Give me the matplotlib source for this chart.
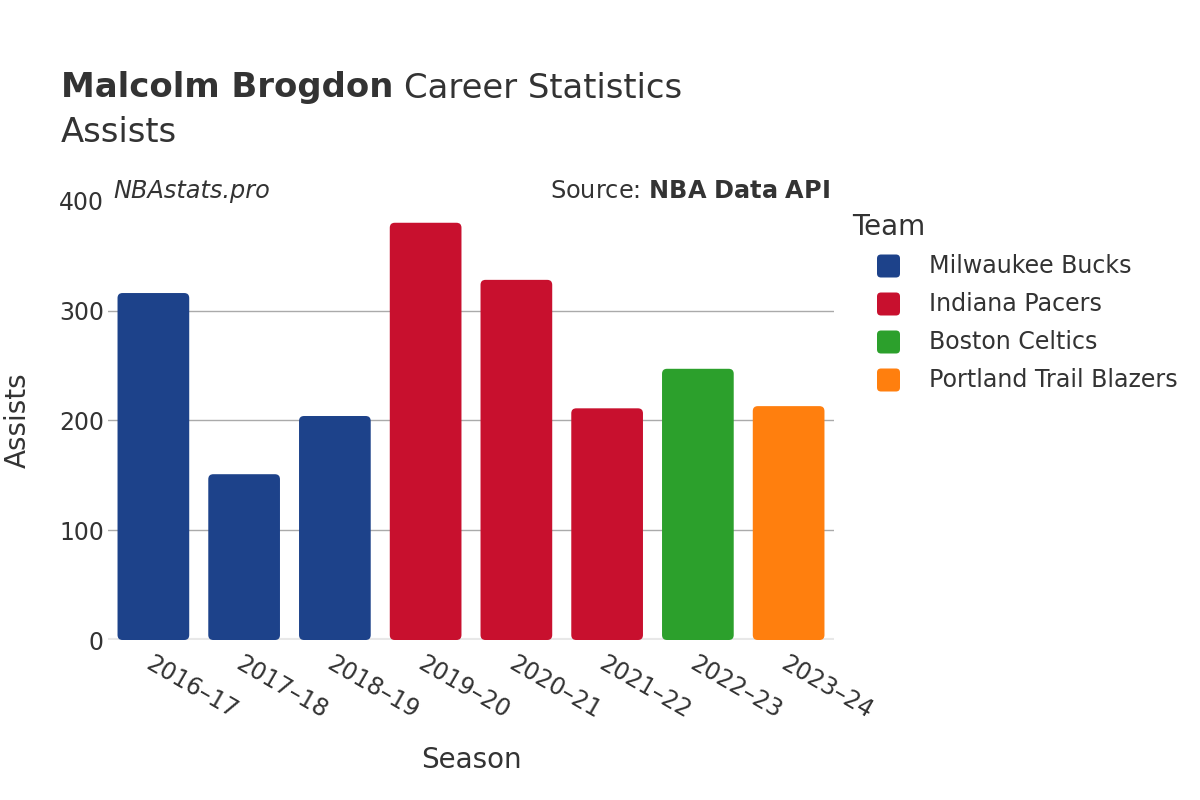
import matplotlib.pyplot as plt
from matplotlib.patches import FancyBboxPatch

seasons = ['2016–17', '2017–18', '2018–19', '2019–20', '2020–21', '2021–22', '2022–23', '2023–24']
assists = [316, 151, 204, 380, 328, 211, 247, 213]
teams = ['Milwaukee Bucks', 'Milwaukee Bucks', 'Milwaukee Bucks', 'Indiana Pacers',
         'Indiana Pacers', 'Indiana Pacers', 'Boston Celtics', 'Portland Trail Blazers']
team_colors = {
    'Milwaukee Bucks': '#1d428a',
    'Indiana Pacers': '#c8102e',
    'Boston Celtics': '#2ca02c',
    'Portland Trail Blazers': '#ff7f0e',
}

plt.rcParams['font.family'] = ['DejaVu Sans']
txt = '#333333'
W, H = 1200, 800

fig = plt.figure(figsize=(12, 8), dpi=100)
ax = fig.add_axes([0.09, 0.2, 0.605, 0.549])
ax.set_xlim(-0.5, len(seasons) - 0.5)
ax.set_ylim(0, 400)

# rounded bars
w = 0.79
x_per_px = len(seasons) / (0.605 * W)
y_per_px = 400 / (0.549 * H)
r = 5 * x_per_px
for i, (v, t) in enumerate(zip(assists, teams)):
    p = FancyBboxPatch((i - w / 2, 0), w, v,
                       boxstyle=f"round,pad=0,rounding_size={r}",
                       mutation_aspect=y_per_px / x_per_px,
                       fc=team_colors[t], ec='none', zorder=3)
    ax.add_patch(p)

ax.set_xticks(range(len(seasons)))
ax.set_xticklabels(seasons, rotation=-30, ha='left', rotation_mode='anchor',
                   fontsize=17, color=txt)
ax.set_yticks([0, 100, 200, 300, 400])
ax.tick_params(axis='y', labelsize=17, colors=txt, length=0, pad=3)
ax.tick_params(axis='x', length=0, pad=8)
for y in [100, 200, 300]:
    ax.axhline(y, color='#aaaaaa', lw=1, zorder=1)
ax.axhline(0, color='#e8e8e8', lw=3, zorder=2)
for s in ax.spines.values():
    s.set_visible(False)

fig.text(471 / W, 1 - 760 / H, 'Season', fontsize=20, color=txt, ha='center', va='center')
fig.text(18 / W, 1 - 420 / H, 'Assists', fontsize=20, color=txt, ha='center', va='center',
         rotation=90)

t1 = fig.text(61 / W, 1 - 88 / H, 'Malcolm Brogdon', fontsize=24.4, fontweight='bold',
              color=txt, va='center')
fig.canvas.draw()
bb = t1.get_window_extent()
fig.text((bb.x1 + 11) / W, 1 - 88 / H, 'Career Statistics', fontsize=24.4, color=txt,
         va='center')
fig.text(61 / W, 1 - 132 / H, 'Assists', fontsize=24.4, color=txt, va='center')
fig.text(113 / W, 1 - 191 / H, 'NBAstats.pro', fontsize=17.3, style='italic', color=txt,
         va='center')
fig.text(830 / W, 1 - 191 / H, 'Source: $\\bf{NBA\\ Data\\ API}$', fontsize=17.3, color=txt,
         va='center', ha='right')

# legend drawn by hand
fig.text(852 / W, 1 - 227 / H, 'Team', fontsize=20, color=txt, va='center')
for k, (t, c) in enumerate(team_colors.items()):
    yc = 266 + 38 * k
    sq = FancyBboxPatch((877 / W, 1 - (yc + 11.5) / H), 23 / W, 23 / H,
                        boxstyle=f"round,pad=0,rounding_size={4 / W}",
                        mutation_aspect=W / H, fc=c, ec='none',
                        transform=fig.transFigure)
    fig.add_artist(sq)
    fig.text(929 / W, 1 - yc / H, t, fontsize=17.1, color=txt, va='center')

fig.savefig('out.png', dpi=100)
